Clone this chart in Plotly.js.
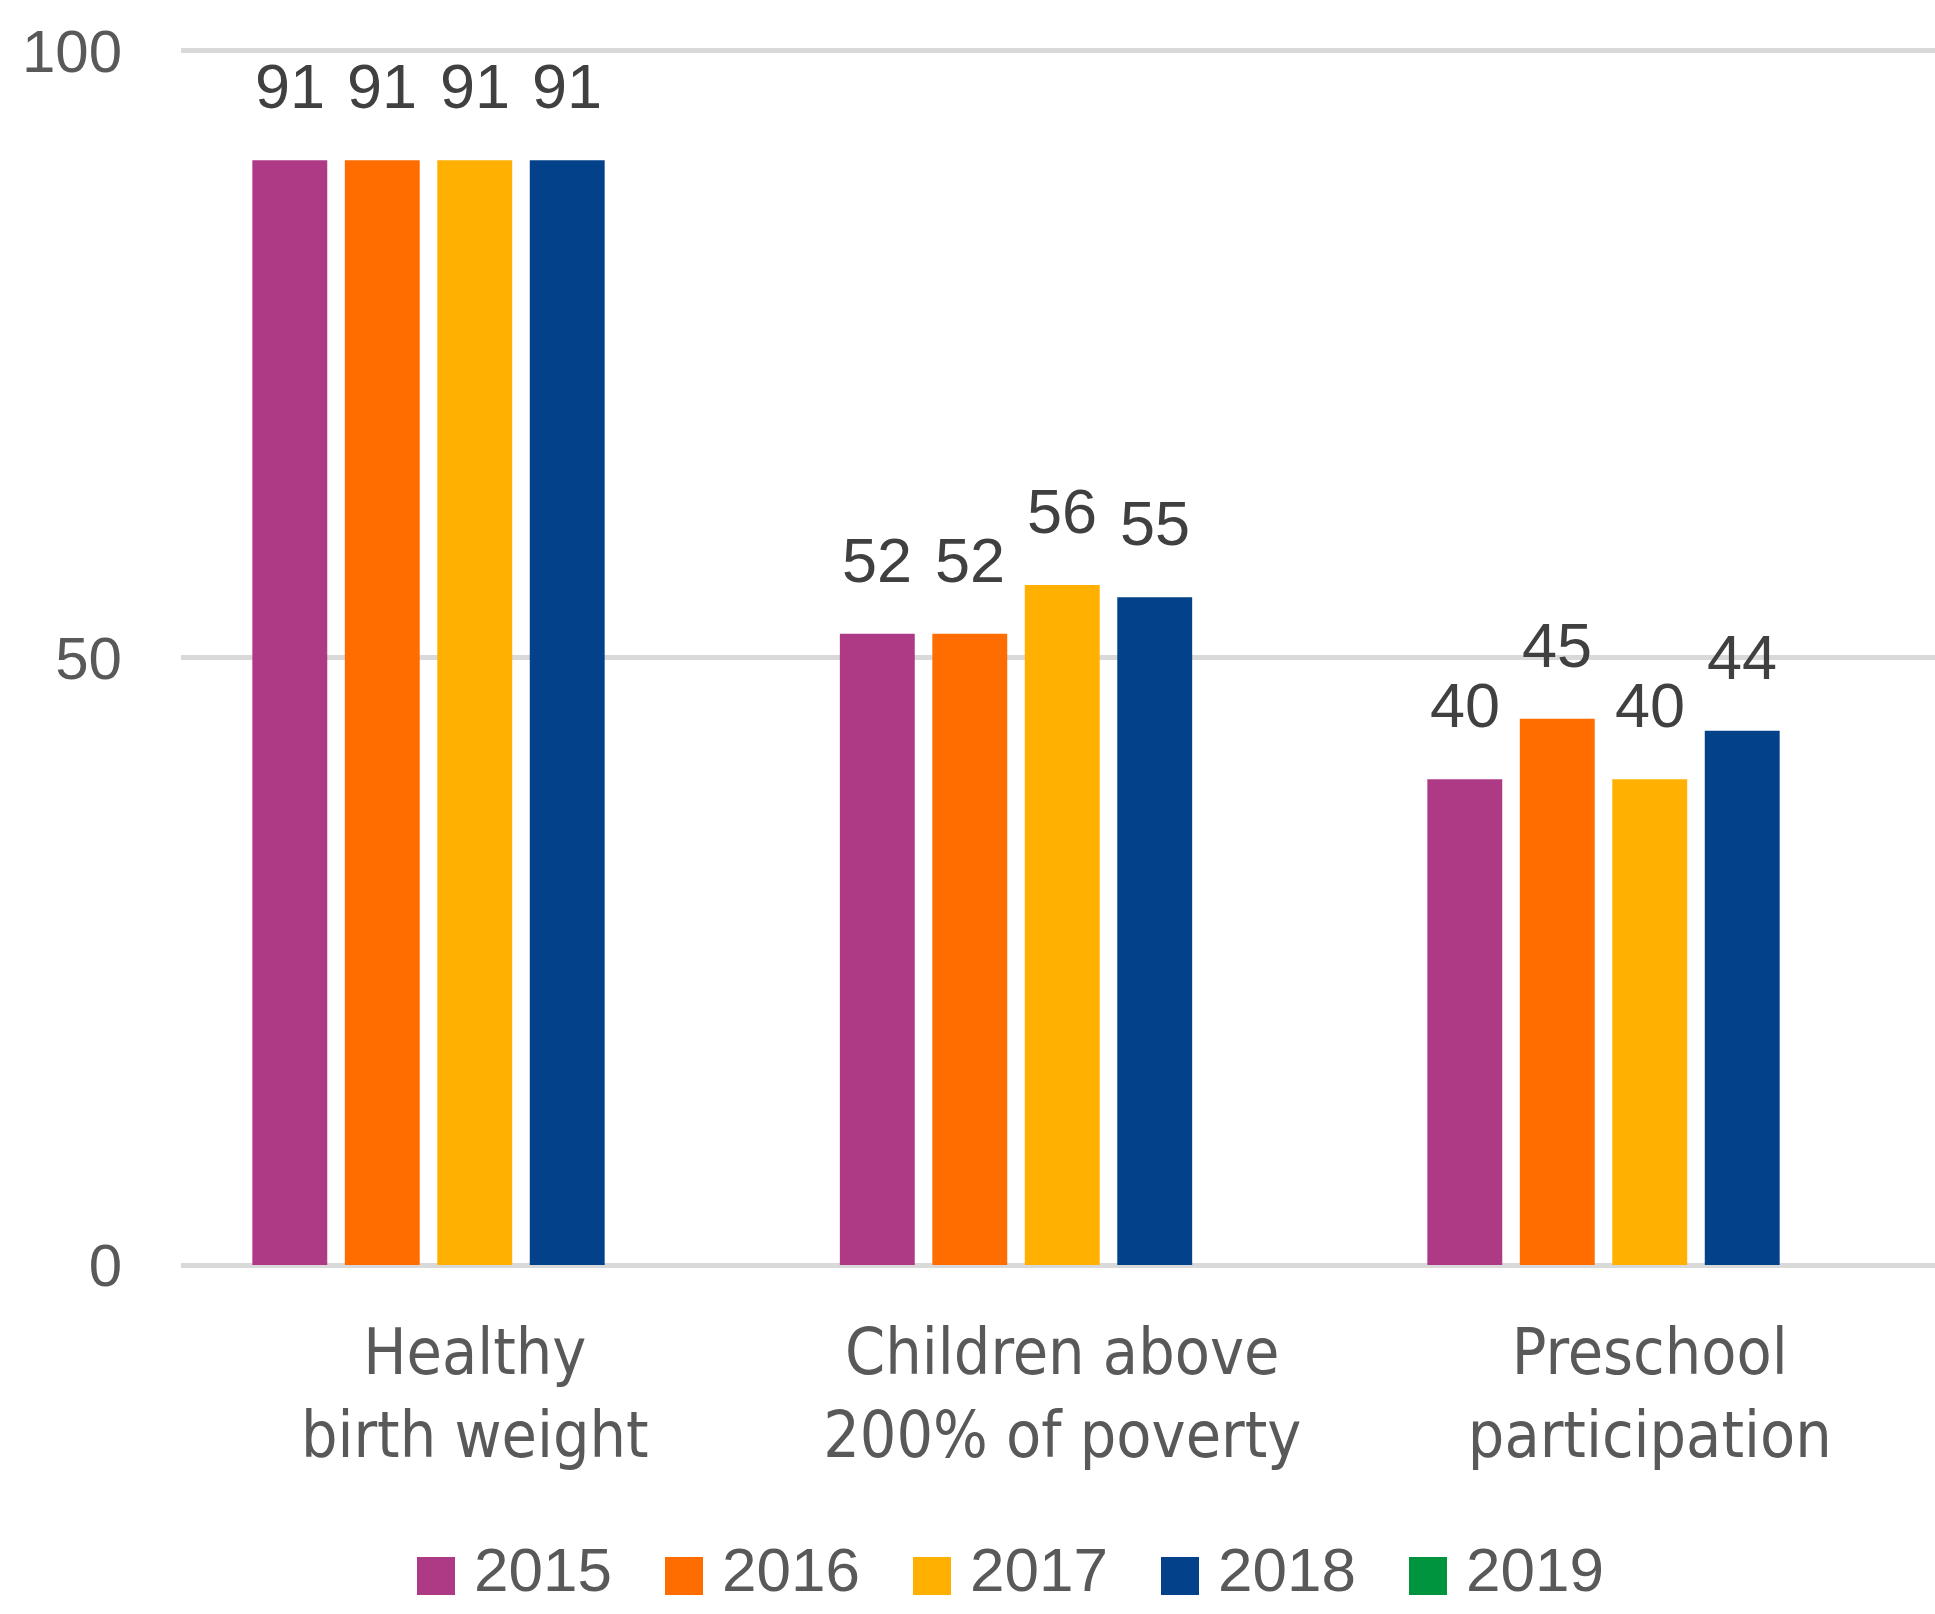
<!DOCTYPE html>
<html>
<head>
<meta charset="utf-8">
<script src="https://cdn.plot.ly/plotly-3.0.1.min.js"></script>
<style>html,body{margin:0;padding:0;background:#fff;}#chart{width:1935px;height:1614px;}</style>
</head>
<body>
<div id="chart"></div>
<script>
// ---- data ----
const categories = ['Healthy birth weight', 'Children above 200% of poverty', 'Preschool participation'];
const categoryLabels = ['Healthy<br>birth weight', 'Children above<br>200% of poverty', 'Preschool<br>participation'];
const years = ['2015', '2016', '2017', '2018', '2019'];
const values2015 = [91, 52, 40];
const values2016 = [91, 52, 45];
const values2017 = [91, 56, 40];
const values2018 = [91, 55, 44];
const values2019 = [null, null, null];
const yearColors = ['#AE3A86', '#FF6C00', '#FFB000', '#03418A', '#00943F'];
const yTicks = [0, 50, 100];

// ---- layout constants (pixels) ----
const W = 1935, H = 1614;
const M = {l: 181, r: 0, t: 46, b: 349};
const plotW = W - M.l - M.r, plotH = H - M.t - M.b;
const BARGAP = 0.213, BARGROUPGAP = 0.19;
const numFont = 'Liberation Sans, Arial, sans-serif';
const catFont = 'DejaVu Sans Condensed, DejaVu Sans, sans-serif';

const series = [values2015, values2016, values2017, values2018, values2019];
const traces = series.map((vals, i) => ({
  type: 'bar',
  name: years[i],
  x: categories,
  y: vals,
  marker: {color: yearColors[i]},
  showlegend: false,
  hoverinfo: 'x+y+name'
}));

const annotations = [];
const n = series.length;
const slot = (1 - BARGAP) / n;
series.forEach((vals, i) => {
  vals.forEach((v, j) => {
    if (v === null) return;
    annotations.push({
      x: j + (i - (n - 1) / 2) * slot,
      y: v,
      xref: 'x', yref: 'y',
      text: String(v),
      showarrow: false,
      xanchor: 'center', yanchor: 'middle',
      yshift: 74,
      font: {family: numFont, size: 63, color: '#404040'}
    });
  });
});

// custom legend (large square swatches)
const px2x = px => (px - M.l) / plotW;
const py2y = py => (M.t + plotH - py) / plotH;
const LEG = {left: 417, pitch: 248, sq: 38, sqCy: 1576, textDx: 55, textCy: 1570};
const shapes = [];
years.forEach((yr, k) => {
  const x0 = LEG.left + k * LEG.pitch;
  shapes.push({
    type: 'rect', xref: 'paper', yref: 'paper',
    x0: px2x(x0), x1: px2x(x0 + LEG.sq),
    y0: py2y(LEG.sqCy + LEG.sq / 2), y1: py2y(LEG.sqCy - LEG.sq / 2),
    fillcolor: yearColors[k], line: {width: 0}
  });
  annotations.push({
    xref: 'paper', yref: 'paper',
    x: px2x(x0 + LEG.textDx), y: py2y(LEG.textCy),
    xanchor: 'left', yanchor: 'middle',
    text: yr, showarrow: false,
    font: {family: numFont, size: 62, color: '#595959'}
  });
});

const layout = {
  width: W, height: H,
  margin: M,
  paper_bgcolor: '#ffffff', plot_bgcolor: '#ffffff',
  barmode: 'group',
  bargap: BARGAP,
  bargroupgap: BARGROUPGAP,
  showlegend: false,
  xaxis: {
    type: 'category',
    range: [-0.5, -0.5 + plotW / 587.5],
    tickmode: 'array',
    tickvals: categories,
    ticktext: categoryLabels,
    tickfont: {family: catFont, size: 64, color: '#595959'},
    ticks: '',
    ticklabelstandoff: 44,
    showgrid: false,
    showline: false,
    zeroline: false
  },
  yaxis: {
    range: [0, 100.4],
    tickmode: 'array',
    tickvals: yTicks,
    ticktext: yTicks.map(String),
    tickfont: {family: numFont, size: 60, color: '#595959'},
    ticks: '',
    ticklabelstandoff: 58,
    showgrid: true,
    gridcolor: '#d9d9d9',
    gridwidth: 5,
    zeroline: true,
    zerolinecolor: '#d9d9d9',
    zerolinewidth: 5,
    showline: false
  },
  shapes: shapes,
  annotations: annotations
};

Plotly.newPlot('chart', traces, layout, {displayModeBar: false, responsive: false});
</script>
</body>
</html>
